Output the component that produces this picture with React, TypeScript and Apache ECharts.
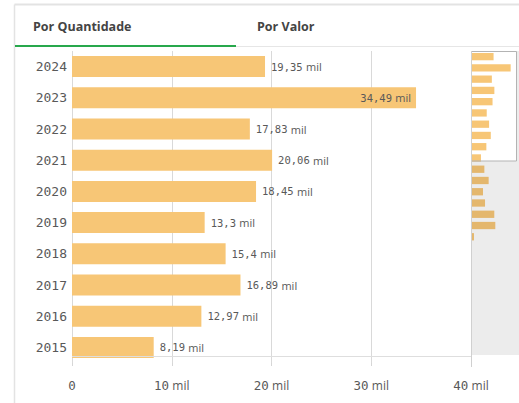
import React, { useEffect, useRef } from "react";
import * as echarts from "echarts";

const years = ["2024", "2023", "2022", "2021", "2020", "2019", "2018", "2017", "2016", "2015", "2014", "2013", "2012", "2011", "2010", "2009", "2008"];
const counts = [19.35, 34.49, 17.83, 20.06, 18.45, 13.3, 15.4, 16.89, 12.97, 8.19, 11.2, 15.0, 10.0, 11.8, 20.0, 20.9, 2.0];
const visibleCount = 10;
const xTicks = [0, 10, 20, 30, 40];
const tabs = ["Por Quantidade", "Por Valor"];

const BAR = "#f7c676";
const TXT = "#595959";
const MONO = "'DejaVu Sans Mono', monospace";
const SANS = "'Open Sans', sans-serif";

const fmt = (v: number) => String(v).replace(".", ",");

export default function App() {
  const ref = useRef<HTMLDivElement>(null);
  useEffect(() => {
    if (!ref.current) return;
    const chart = echarts.init(ref.current, undefined, { renderer: "svg" });
    const vYears = years.slice(0, visibleCount);
    const vCounts = counts.slice(0, visibleCount);
    chart.setOption({
      animation: false,
      backgroundColor: "#ffffff",
      grid: [
        { left: 72, top: 51, width: 399, height: 312, containLabel: false },
        { left: 471.7, top: 51, width: 45.2, height: 304, show: true, backgroundColor: "#ffffff", borderWidth: 0 },
      ],
      xAxis: [
        {
          gridIndex: 0,
          type: "value",
          min: xTicks[0],
          max: xTicks[xTicks.length - 1],
          interval: 10,
          axisLine: { show: false },
          axisTick: { show: true, length: 3, lineStyle: { color: "#d6d6d6" } },
          splitLine: { show: true, lineStyle: { color: "#d9d9d9", width: 1 } },
          axisLabel: {
            margin: 16,
            formatter: (v: number) => (v === 0 ? "{n|0}" : `{n|${v}} {u|mil}`),
            rich: {
              n: { fontFamily: MONO, fontSize: 12.5, color: TXT },
              u: { fontFamily: SANS, fontSize: 12, color: TXT },
            },
          },
        },
        {
          gridIndex: 1,
          type: "value",
          min: 0,
          max: 40,
          show: false,
        },
      ],
      yAxis: [
        {
          gridIndex: 0,
          type: "category",
          inverse: true,
          data: vYears,
          axisLine: { show: false },
          axisTick: { show: false },
          axisLabel: { margin: 5, fontFamily: MONO, fontSize: 13, color: TXT },
        },
        {
          gridIndex: 1,
          type: "category",
          inverse: true,
          data: years,
          max: 26,
          show: false,
        },
      ],
      series: [
        {
          type: "bar",
          xAxisIndex: 0,
          yAxisIndex: 0,
          barWidth: 21,
          itemStyle: { color: BAR },
          data: vCounts.map((v) => ({
            value: v,
            label: v > 30 ? { position: "insideRight", distance: 5 } : undefined,
          })),
          label: {
            show: true,
            position: "right",
            distance: 6,
            formatter: (p: any) => `{n|${fmt(p.value)}} {u|mil}`,
            rich: {
              n: { fontFamily: MONO, fontSize: 10.5, color: TXT },
              u: { fontFamily: SANS, fontSize: 11, color: TXT },
            },
          },
        },
        {
          type: "bar",
          xAxisIndex: 1,
          yAxisIndex: 1,
          barWidth: 7.3,
          silent: true,
          itemStyle: { color: BAR },
          data: counts,
        },
      ],
      graphic: [
        // card borders
        { type: "line", z: 50, shape: { x1: 14.5, y1: 4.5, x2: 519, y2: 4.5 }, style: { stroke: "#e3e3e3", lineWidth: 2 } },
        { type: "line", z: 50, shape: { x1: 14.5, y1: 4.5, x2: 14.5, y2: 403 }, style: { stroke: "#e3e3e3", lineWidth: 1.5 } },
        // tabs
        { type: "text", z: 50, x: 33, y: 26, style: { text: tabs[0], fontFamily: SANS, fontWeight: "bold", fontSize: 12.5, fill: "#444444", verticalAlign: "middle" } },
        { type: "text", z: 50, x: 257, y: 26, style: { text: tabs[1], fontFamily: SANS, fontWeight: "bold", fontSize: 12.5, fill: "#444444", verticalAlign: "middle" } },
        { type: "line", z: 50, shape: { x1: 236, y1: 46.5, x2: 519, y2: 46.5 }, style: { stroke: "#e6e6e6", lineWidth: 1 } },
        { type: "rect", z: 51, shape: { x: 15, y: 45, width: 221, height: 2 }, style: { fill: "#28a84c" } },
        // plot bottom edge
        { type: "line", z: 50, shape: { x1: 72, y1: 356.5, x2: 471, y2: 356.5 }, style: { stroke: "#dedede", lineWidth: 1 } },
        // minimap overlay and window box
        { type: "rect", z: 60, shape: { x: 471.5, y: 161, width: 47.5, height: 194 }, style: { fill: "rgba(0,0,0,0.075)" } },
        { type: "rect", z: 60, shape: { x: 516.5, y: 51, width: 2.5, height: 110 }, style: { fill: "rgba(0,0,0,0.075)" } },
        { type: "rect", z: 61, shape: { x: 471.5, y: 51.5, width: 45, height: 109.5 }, style: { fill: "none", stroke: "#b3b3b3", lineWidth: 1 } },
        { type: "line", z: 61, shape: { x1: 471.5, y1: 51, x2: 471.5, y2: 367 }, style: { stroke: "#d0d0d0", lineWidth: 1 } },
      ],
    });
    return () => chart.dispose();
  }, []);
  return <div ref={ref} style={{ position: "fixed", left: 0, top: 0, width: 519, height: 403 }} />;
}
